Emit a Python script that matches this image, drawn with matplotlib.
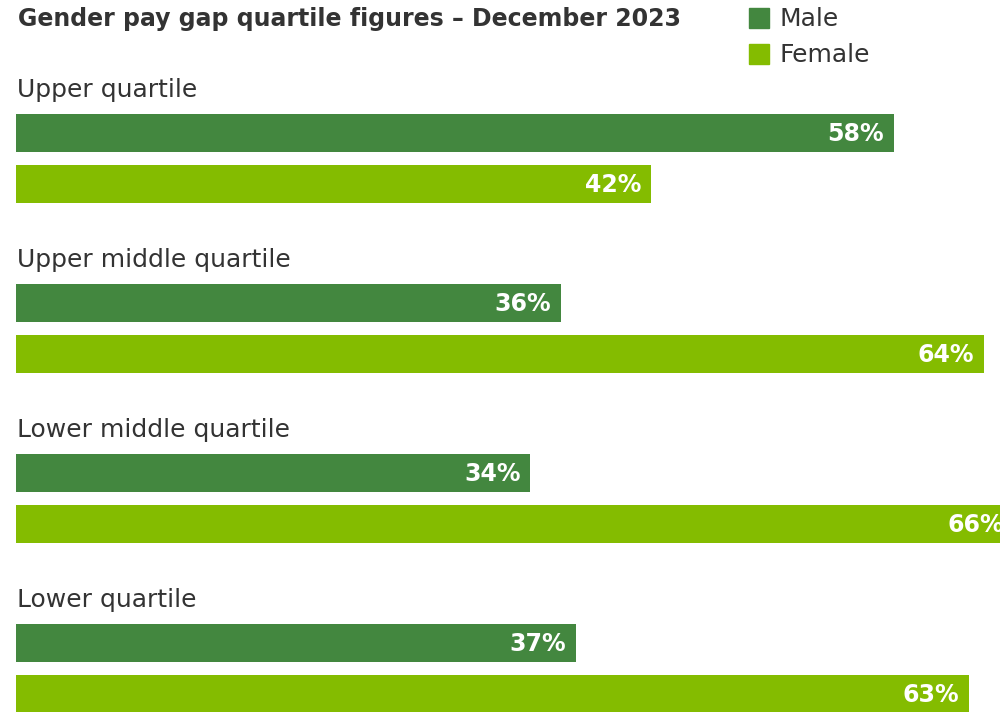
import matplotlib.pyplot as plt
from matplotlib.patches import Rectangle

categories = ['Upper quartile', 'Upper middle quartile', 'Lower middle quartile', 'Lower quartile']
male = [58, 36, 34, 37]
female = [42, 64, 66, 63]
series_names = ['Male', 'Female']
colors = ['#43873f', '#84bc00']
title = 'Gender pay gap quartile figures \u2013 December 2023'

plt.rcParams['font.family'] = ['DejaVu Sans']
text_color = '#333333'

W, H = 1000, 712
fig = plt.figure(figsize=(W / 100, H / 100), dpi=100)
ax = fig.add_axes([0, 0, 1, 1])

# pixel-ish layout: x=0 at 16px, 15.13px per percent
px_per = 15.13
x0 = 16
ax.set_xlim(-x0 / px_per, (W - x0) / px_per)
ax.set_ylim(H, 0)
ax.axis('off')

group_step = 170
bar_h = 38
for i, cat in enumerate(categories):
    base = i * group_step
    ym = base + 133
    yf = base + 184
    ax.barh(ym, male[i], height=bar_h, color=colors[0], left=0)
    ax.barh(yf, female[i], height=bar_h, color=colors[1], left=0)
    ax.text(0.05, base + 97, cat, fontsize=18, color=text_color, va='baseline', ha='left')
    for y, v in ((ym, male[i]), (yf, female[i])):
        ax.text(v - 10 / px_per, y + 1, f'{v}%', fontsize=17, fontweight='bold',
                color='white', va='center', ha='right')

fig.text(18 / W, 1 - 19 / H, title, fontsize=17, fontweight='bold', color=text_color,
         va='center', ha='left')

for j, name in enumerate(series_names):
    top = 8 + j * 36
    fig.patches.append(Rectangle((749 / W, 1 - (top + 20) / H), 20 / W, 20 / H,
                                 transform=fig.transFigure, color=colors[j]))
    fig.text(779 / W, 1 - (top + 11) / H, name, fontsize=18, color=text_color,
             va='center', ha='left')

fig.savefig('out.png', dpi=100)
